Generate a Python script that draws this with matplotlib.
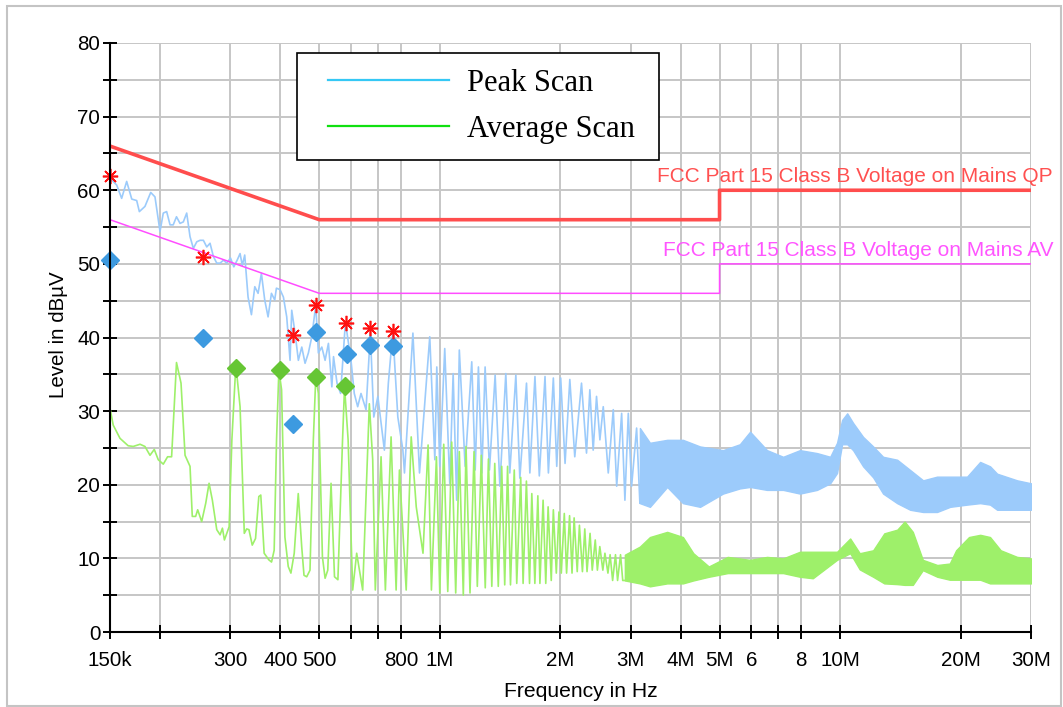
import numpy as np
import matplotlib
matplotlib.use("Agg")
import matplotlib.pyplot as plt
from matplotlib.lines import Line2D
from matplotlib.patches import Rectangle
from matplotlib.ticker import NullLocator
from matplotlib.legend_handler import HandlerLine2D

plt.rcParams['font.family'] = ['Liberation Sans', 'DejaVu Sans']

# ---- data (frequencies in MHz, levels in dBuV) ----
# peak scan, low part (individual points)
peak_f = [0.150, 0.1515, 0.1559, 0.1604, 0.1651, 0.170, 0.1749, 0.1776, 0.1834, 0.1896,
          0.1943, 0.200, 0.2038, 0.2078, 0.2119, 0.2158, 0.2199, 0.2244, 0.2287, 0.2332,
          0.2377, 0.2423, 0.2471, 0.2518, 0.2567, 0.2617, 0.2667, 0.2719, 0.2772, 0.2826,
          0.2881, 0.2937, 0.300, 0.3058, 0.3117, 0.317, 0.3211, 0.3256, 0.3319, 0.3384,
          0.345, 0.3516, 0.3584, 0.3653, 0.3724, 0.3797, 0.3869, 0.3907, 0.399, 0.4067,
          0.4146, 0.4226, 0.4267, 0.435, 0.4433, 0.4521, 0.4607, 0.4696, 0.4789, 0.490,
          0.4974, 0.5073, 0.517, 0.527, 0.5375, 0.5427, 0.5537, 0.5652, 0.5811, 0.600,
          0.6115, 0.6236, 0.6356, 0.6543, 0.6707, 0.6841, 0.7003, 0.7271, 0.7439, 0.7632,
          0.7856, 0.8088, 0.8162, 0.8568, 0.890, 0.944, 0.972, 0.983, 1.000, 1.029,
          1.059, 1.080, 1.102, 1.119, 1.157, 1.202, 1.226, 1.249, 1.274, 1.298,
          1.331, 1.375, 1.413, 1.462, 1.496, 1.549, 1.585, 1.647, 1.679, 1.729,
          1.773, 1.832, 1.868, 1.922, 1.960, 2.005, 2.056, 2.113, 2.174, 2.260,
          2.326, 2.371, 2.417, 2.464, 2.512, 2.561, 2.636, 2.713, 2.767, 2.847,
          2.901, 2.958, 3.015, 3.103, 3.162]
peak_lv = [61.8, 61.4, 60.7, 58.9, 61.2, 58.8, 58.6, 57.1, 57.8, 59.7,
           59.1, 54.4, 56.9, 57.1, 55.3, 55.3, 56.4, 55.5, 55.7, 56.9,
           53.7, 52.1, 53.0, 53.2, 53.2, 52.3, 52.8, 51.0, 50.1, 50.1,
           50.5, 50.1, 50.8, 49.6, 50.5, 51.4, 49.8, 51.2, 45.5, 43.1,
           46.9, 46.0, 48.7, 45.1, 42.8, 46.0, 45.1, 46.7, 46.5, 45.5,
           42.8, 36.9, 43.7, 40.6, 36.9, 38.7, 36.5, 37.9, 40.1, 44.4,
           37.9, 38.7, 36.9, 39.2, 33.3, 37.4, 33.8, 32.4, 42.1, 36.9,
           32.4, 30.6, 32.4, 30.2, 40.6, 29.2, 32.0, 24.7, 33.8, 40.8,
           29.2, 24.7, 21.6, 40.6, 21.6, 40.1, 23.4, 36.0, 22.5, 38.5,
           20.2, 35.1, 17.9, 38.3, 22.5, 36.7, 22.0, 36.0, 21.6, 36.0,
           22.0, 34.9, 19.8, 35.1, 21.6, 34.9, 20.9, 33.8, 21.6, 34.7,
           21.2, 34.7, 21.6, 34.5, 22.5, 34.5, 22.9, 34.3, 23.8, 33.8,
           24.3, 32.9, 24.7, 32.0, 26.1, 30.6, 21.6, 30.2, 19.8, 29.7,
           17.9, 29.7, 19.8, 27.7, 17.5]

# peak scan, dense part above 3 MHz (upper / lower envelope)
peak_band_f = [3.162, 3.35, 3.70, 4.05, 4.47, 5.10, 5.62, 5.96, 6.57, 7.21,
               7.94, 8.76, 9.45, 9.83, 10.12, 10.42, 10.78, 11.42, 12.10, 12.81,
               13.89, 14.97, 16.13, 17.47, 18.84, 20.77, 22.39, 23.71, 24.69, 27.7, 30.0]
peak_band_hi = [27.7, 25.7, 26.1, 26.1, 25.2, 24.7, 25.5, 27.2, 24.7, 23.8,
                24.7, 24.3, 23.8, 25.7, 28.8, 29.7, 28.4, 26.5, 25.2, 23.8,
                23.4, 22.0, 20.6, 21.1, 21.1, 21.1, 23.1, 22.5, 21.5, 20.6, 20.2]
peak_band_lo = [17.5, 17.0, 19.7, 17.5, 17.0, 18.8, 19.5, 19.7, 19.3, 19.3,
                18.8, 19.3, 20.2, 21.6, 25.5, 25.5, 24.7, 22.5, 21.0, 18.8,
                17.5, 16.6, 16.3, 16.3, 17.0, 17.3, 17.5, 17.3, 16.6, 16.6, 16.6]

# average scan, low part
avg_f = [0.150, 0.1528, 0.1589, 0.1665, 0.1714, 0.1783, 0.1834, 0.1888, 0.1935, 0.1980,
         0.2038, 0.2089, 0.2138, 0.2199, 0.2257, 0.2310, 0.2377, 0.2408, 0.2455, 0.2484,
         0.2542, 0.2602, 0.2652, 0.2703, 0.2772, 0.2826, 0.2864, 0.2897, 0.2977, 0.3024,
         0.3094, 0.3170, 0.3248, 0.3292, 0.3336, 0.3400, 0.3465, 0.3531, 0.3571, 0.3641,
         0.3741, 0.3799, 0.3857, 0.3910, 0.3963, 0.4025, 0.4103, 0.4182, 0.4247, 0.4329,
         0.4430, 0.4519, 0.4579, 0.4651, 0.4740, 0.4832, 0.4900, 0.4974, 0.5091, 0.517,
         0.525, 0.535, 0.5457, 0.5565, 0.5716, 0.5782, 0.5902, 0.6059, 0.620, 0.6418,
         0.6668, 0.6799, 0.6901, 0.7134, 0.7313, 0.7557, 0.7779, 0.7929, 0.8243, 0.8484,
         0.8734, 0.908, 0.935, 0.953, 0.981, 1.000, 1.023, 1.047, 1.071, 1.096,
         1.119, 1.145, 1.163, 1.190, 1.218, 1.241, 1.270, 1.299, 1.323, 1.349,
         1.372, 1.400, 1.428, 1.453, 1.477, 1.502, 1.535, 1.557, 1.593, 1.615,
         1.646, 1.676, 1.698, 1.728, 1.758, 1.779, 1.812, 1.840, 1.865, 1.899,
         1.922, 1.955, 1.985, 2.012, 2.047, 2.074, 2.110, 2.140, 2.166, 2.205,
         2.233, 2.272, 2.303, 2.333, 2.374, 2.404, 2.446, 2.476, 2.511, 2.555,
         2.586, 2.631, 2.664, 2.703, 2.748, 2.781, 2.829, 2.865, 2.900]
avg_lv = [30.4, 28.1, 26.3, 25.3, 25.2, 25.5, 25.2, 24.0, 24.8, 23.4,
          22.8, 23.8, 23.8, 36.6, 33.8, 24.0, 22.5, 15.7, 15.7, 16.6,
          15.0, 17.5, 20.2, 17.9, 13.9, 13.2, 14.1, 12.5, 14.3, 26.1,
          36.3, 30.6, 13.4, 14.0, 13.9, 11.8, 12.7, 18.4, 18.6, 10.7,
          9.8, 9.5, 11.1, 26.1, 35.6, 32.9, 12.9, 8.9, 8.0, 10.7,
          18.8, 11.6, 7.7, 7.5, 8.4, 26.1, 34.7, 32.4, 10.2, 7.3,
          8.4, 20.2, 7.5, 7.1, 26.1, 33.3, 26.1, 5.7, 10.7, 5.7,
          31.0, 23.4, 5.7, 23.8, 5.7, 26.5, 5.7, 22.0, 5.7, 26.5,
          17.0, 10.7, 25.4, 5.7, 23.8, 5.3, 25.5, 5.5, 25.8, 5.3,
          24.5, 5.0, 25.2, 5.3, 24.5, 6.2, 24.0, 6.0, 23.5, 6.2,
          22.9, 6.2, 22.5, 6.4, 22.5, 6.4, 22.0, 6.6, 21.0, 6.6,
          20.5, 6.6, 18.8, 6.6, 18.5, 6.6, 17.9, 6.6, 17.0, 7.0,
          16.6, 8.0, 16.3, 8.0, 16.1, 8.0, 15.8, 8.0, 15.5, 8.2,
          14.5, 8.2, 14.0, 8.2, 13.4, 8.4, 12.5, 8.4, 11.6, 8.4,
          10.7, 8.0, 10.5, 7.0, 10.5, 7.0, 10.5, 7.0, 7.0]

# average scan, dense part
avg_band_f = [2.90, 3.162, 3.35, 3.70, 4.05, 4.30, 4.70, 5.24, 5.96, 6.57,
              7.21, 7.94, 8.55, 9.83, 10.6, 11.2, 12.1, 12.9, 13.9, 14.5,
              15.2, 16.1, 17.5, 18.8, 19.5, 21.0, 22.4, 23.7, 25.2, 27.7, 30.0]
avg_band_hi = [10.5, 11.6, 12.9, 13.6, 12.9, 10.7, 8.9, 10.2, 9.8, 10.2,
               10.0, 10.9, 10.9, 10.9, 12.7, 10.7, 11.1, 13.4, 13.9, 15.0,
               13.6, 9.8, 9.1, 9.3, 11.1, 12.9, 13.2, 12.9, 11.1, 10.2, 10.0]
avg_band_lo = [7.0, 6.6, 6.2, 6.6, 6.6, 7.0, 7.5, 8.0, 8.0, 8.0,
               8.0, 7.5, 7.3, 9.8, 10.7, 8.5, 7.5, 6.6, 6.5, 6.4,
               6.4, 8.4, 7.5, 7.1, 7.1, 7.1, 7.1, 6.6, 6.6, 6.6, 6.6]

# limit lines
qp_lim_f = [0.15, 0.5, 5.0, 5.0, 30.0]
qp_lim = [66, 56, 56, 60, 60]
av_lim_f = [0.15, 0.5, 5.0, 5.0, 30.0]
av_lim = [56, 46, 46, 50, 50]

# final measurement markers
qp_mark_f = [0.150, 0.2565, 0.430, 0.4905, 0.583, 0.669, 0.764]
qp_mark = [62.0, 51.0, 40.3, 44.4, 42.0, 41.3, 40.9]
pk_mark_f = [0.150, 0.2565, 0.430, 0.4905, 0.585, 0.671, 0.766]
pk_mark = [50.5, 40.0, 28.3, 40.8, 37.8, 39.0, 38.8]
av_mark_f = [0.3097, 0.399, 0.492, 0.581]
av_mark = [35.9, 35.6, 34.7, 33.4]

xt = [0.15, 0.2, 0.3, 0.4, 0.5, 0.6, 0.7, 0.8, 1, 2, 3, 4, 5, 6, 7, 8, 10, 20, 30]
xt_labels = ['150k', '', '300', '400', '500', '', '', '800', '1M', '2M', '3M', '4M',
             '5M', '6', '', '8', '10M', '20M', '30M']

M = 1e6
mhz = lambda v: np.asarray(v) * M

fig = plt.figure(figsize=(10.63, 7.07), dpi=100)
ax = fig.add_axes([110 / 1063, 1 - 632 / 707, 921 / 1063, 589 / 707])

blue = '#9ccbfb'
green = '#9ef06a'

ax.plot(mhz(peak_f), peak_lv, color=blue, lw=1.2, zorder=3)
ax.fill_between(mhz(peak_band_f), peak_band_lo, peak_band_hi, color=blue, lw=1.0, zorder=3)
ax.plot(mhz(avg_f), avg_lv, color=green, lw=1.2, zorder=4)
ax.fill_between(mhz(avg_band_f), avg_band_lo, avg_band_hi, color=green, lw=1.0, zorder=4)

ax.plot(mhz(qp_lim_f), qp_lim, color='#ff4d4d', lw=2.6, zorder=5)
ax.plot(mhz(av_lim_f), av_lim, color='#ff4dff', lw=1.1, zorder=5)

ax.plot(mhz(qp_mark_f), qp_mark, ls='none', marker=(8, 2, 0), ms=11, mew=1.2,
        color='#ff1010', zorder=7, clip_on=False)
ax.plot(mhz(pk_mark_f), pk_mark, ls='none', marker='D', ms=9.5, color='#3d9ae0',
        zorder=6, clip_on=False)
ax.plot(mhz(av_mark_f), av_mark, ls='none', marker='D', ms=9.5, color='#66c634',
        zorder=6, clip_on=False)

ax.set_xscale('log')
ax.set_xlim(0.15 * M, 30 * M)
ax.set_ylim(0, 80)
ax.set_xticks(mhz(xt))
ax.set_xticklabels(xt_labels)
ax.xaxis.set_minor_locator(NullLocator())
ax.set_yticks(range(0, 81, 10))
ax.set_yticks(range(5, 80, 10), minor=True)
ax.tick_params(axis='both', which='both', direction='inout', length=10, width=1.4,
               labelsize=14.8, colors='black')
ax.tick_params(axis='x', pad=9)
ax.tick_params(axis='y', pad=2)

ax.grid(True, which='both', color='#c6c6c6', lw=1.4, zorder=0)
ax.set_axisbelow(True)
for s in ['top', 'right']:
    ax.spines[s].set_visible(False)
for s in ['left', 'bottom']:
    ax.spines[s].set_linewidth(1.5)
    ax.spines[s].set_zorder(8)

ax.set_xlabel('Frequency in Hz', fontsize=15.2)
ax.set_ylabel('Level in dBµV', fontsize=14.8)
ax.xaxis.set_label_coords(0.511, -0.085)
ax.yaxis.set_label_coords(-0.046, 0.505)

tr = ax.get_yaxis_transform()
ax.text(1.024, 61.8, 'FCC Part 15 Class B Voltage on Mains QP', transform=tr,
        ha='right', va='center', color='#ff5050', fontsize=15, clip_on=False)
ax.text(1.024, 51.8, 'FCC Part 15 Class B Voltage on Mains AV', transform=tr,
        ha='right', va='center', color='#ff55ff', fontsize=15, clip_on=False)

# legend box: 297..659 px wide, 53..158 px high
handles = [Line2D([], [], color='#35c8f5', lw=1.6), Line2D([], [], color='#10e010', lw=1.6)]
leg = ax.legend(handles, ['Peak Scan', 'Average Scan'], loc='upper left',
                bbox_to_anchor=((297 - 110) / 921, (632 - 158) / 589, 362 / 921, 105 / 589),
                mode='expand',
                borderaxespad=0, frameon=True, fancybox=False, framealpha=1,
                edgecolor='black', handlelength=4.45, handletextpad=0.59,
                borderpad=0.52, labelspacing=0.55,
                handler_map={Line2D: HandlerLine2D(xpad=0.49)},
                prop={'family': 'Liberation Serif', 'size': 22})
leg.get_frame().set_linewidth(1.2)
leg.set_zorder(9)

fig.add_artist(Rectangle((7 / 1063, 1 - 706 / 707), 1054 / 1063, 700 / 707,
                         transform=fig.transFigure, fill=False,
                         edgecolor='#c4c4c4', lw=1.5))

fig.savefig('out.png', dpi=100)
plt.close(fig)
